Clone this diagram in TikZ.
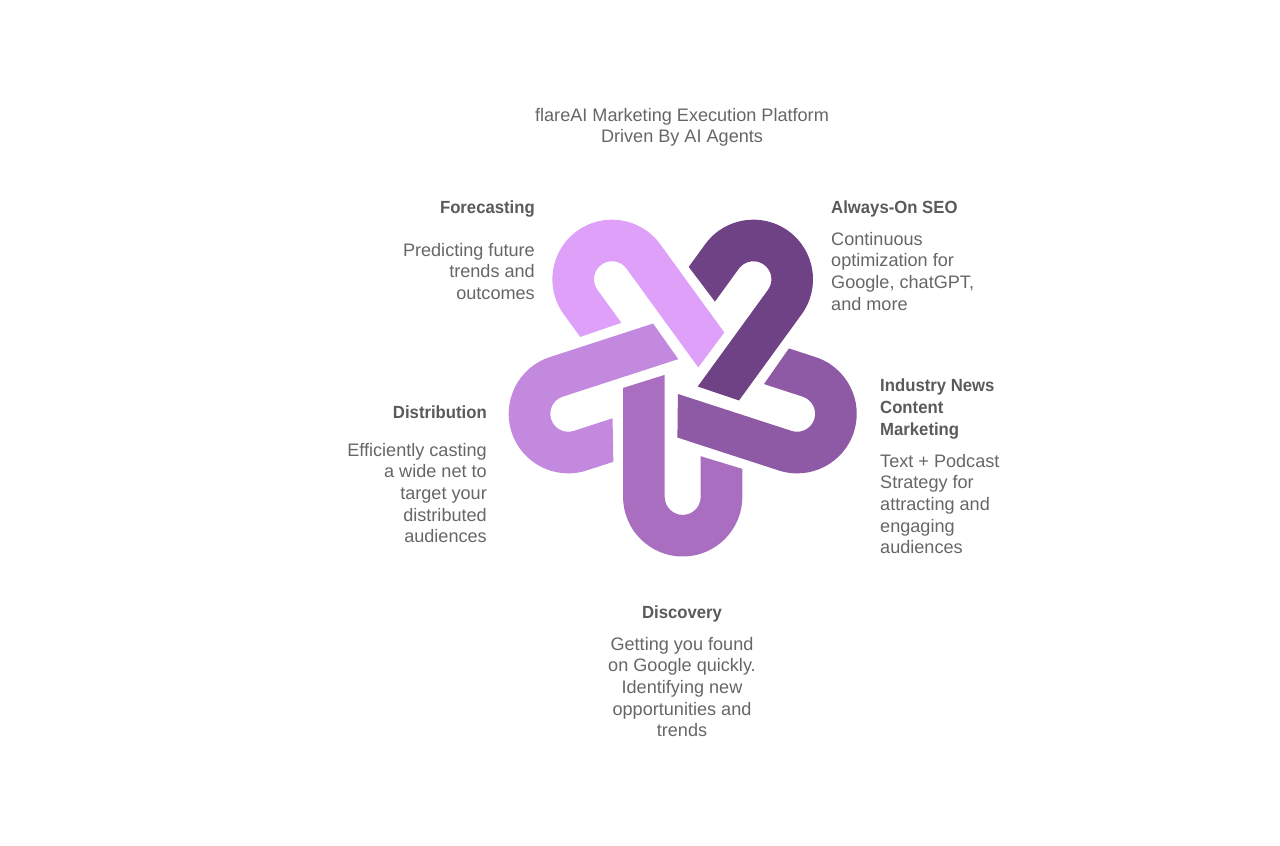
\documentclass[tikz,border=0pt]{standalone}
\usepackage{fontspec}
\setmainfont[BoldFeatures={FakeStretch=0.95}]{Liberation Sans}
\definecolor{TextClr}{RGB}{102,102,102}
\definecolor{HeadClr}{RGB}{90,90,90}
\definecolor{LinkOne}{RGB}{170,110,193}
\definecolor{LinkTwo}{RGB}{142,90,165}
\definecolor{LinkThree}{RGB}{111,66,133}
\definecolor{LinkFour}{RGB}{223,160,250}
\definecolor{LinkFive}{RGB}{195,137,222}
\tikzset{
  bodytxt/.style={inner sep=0pt,text=TextClr,font=\fontsize{18.1}{21.6}\selectfont},
  headtxt/.style={inner sep=0pt,text=HeadClr,font=\fontsize{17.6}{21.6}\selectfont\bfseries}
}
\begin{document}
\begin{tikzpicture}[x=1pt,y=1pt]
\useasboundingbox (0,0) rectangle (1280,846);

\foreach \Ang/\Clr/\Cut in {0/LinkOne/0,72/LinkTwo/2.5,144/LinkThree/2.5,216/LinkFour/0,288/LinkFive/0.5}{
  \fill[\Clr,shift={(682.7,469.4)},rotate=\Ang]
    (-59.6,{-11.3-\Cut}) -- (-18,{1.7-\Cut}) -- (-18,-120.3)
    arc[start angle=180,end angle=360,radius=18]
    -- (18,-79.6) -- (59.6,-92.3) -- (59.6,-120.3)
    arc[start angle=0,end angle=-180,radius=59.6] -- cycle;
}

\node[bodytxt,align=center] (title) at (682,718.5) {flareAI Marketing Execution Platform\\Driven By AI Agents};

\node[headtxt,anchor=east] (forecast) at (535,637) {Forecasting};
\node[bodytxt,align=right,anchor=north east] (forecastTxt) at (535,603) {Predicting future\\trends and\\outcomes};

\node[headtxt,anchor=west] (seo) at (831,637) {Always-On SEO};
\node[bodytxt,align=left,anchor=north west] (seoTxt) at (831,614) {Continuous\\optimization for\\Google, chatGPT,\\and more};

\node[headtxt,align=left,anchor=north west] (news) at (880,467) {Industry News\\Content\\Marketing};
\node[bodytxt,align=left,anchor=north west] (newsTxt) at (880,392) {Text + Podcast\\Strategy for\\attracting and\\engaging\\audiences};

\node[headtxt] (discovery) at (682,232) {Discovery};
\node[bodytxt,align=center,anchor=north] (discoveryTxt) at (682,209) {Getting you found\\on Google quickly.\\Identifying new\\opportunities and\\trends};

\node[headtxt,anchor=east] (distribution) at (487,434) {Distribution};
\node[bodytxt,align=right,anchor=north east] (distributionTxt) at (487,403) {Efficiently casting\\a wide net to\\target your\\distributed\\audiences};
\end{tikzpicture}
\end{document}
